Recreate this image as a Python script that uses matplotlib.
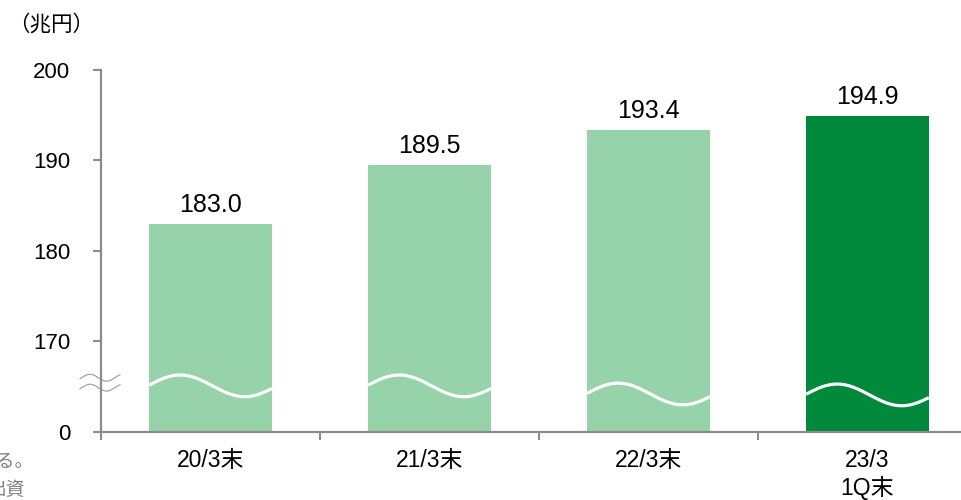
import numpy as np
import matplotlib
matplotlib.use("Agg")
import matplotlib.pyplot as plt

plt.rcParams['font.family'] = ['Liberation Sans', 'Noto Sans CJK JP', 'DejaVu Sans']

# ---- data ----
categories = ["20/3末", "21/3末", "22/3末", "23/3\n1Q末"]
values = [183.0, 189.5, 193.4, 194.9]
value_labels = ["183.0", "189.5", "193.4", "194.9"]
ytick_values = [0, 170, 180, 190, 200]
unit_label = "（兆円）"

# broken axis: real 0 is drawn where 160 would be
BREAK_BASE = 160.0
def to_axis(v):
    return v if v >= 170 else BREAK_BASE

light = "#96D3AA"
dark = "#00893A"
colors = [light, light, light, dark]
spine_gray = "#8C8C8C"

fig = plt.figure(figsize=(9.62, 5.0), dpi=100)
ax = fig.add_axes([101/962, 68/500, 861/962, 362/500])

x = np.arange(len(categories))
bar_w = 0.56
heights = [to_axis(v) - BREAK_BASE for v in values]
bars = ax.bar(x, heights, bottom=BREAK_BASE, width=bar_w, color=colors, zorder=2)

for xi, v, lab in zip(x, values, value_labels):
    ax.annotate(lab, (xi, to_axis(v)), xytext=(0, 5), textcoords="offset points",
                ha="center", va="bottom", fontsize=18, color="black")

# white wavy break lines through the bars
wave_centers = [165.1, 165.1, 164.2, 164.1]
t = np.linspace(0, 1, 200)
for xi, c in zip(x, wave_centers):
    xs = xi - bar_w/2 + t*bar_w
    ys = c + 1.2*np.sin(2*np.pi*(0.95*t + 0.01))
    ax.plot(xs, ys, color="white", lw=2.3, zorder=3, solid_capstyle="butt")

# axis break marks on the y axis (gray double waves)
tx = np.linspace(0, 1, 100)
bx = -0.596 + tx*(0.183)
for c in [166.0, 164.9]:
    by = c + 0.38*np.cos(2*np.pi*(tx*40/33 - 10/33))
    ax.plot(bx, by, color="#9A9A9A", lw=0.8, clip_on=False, zorder=1)

ax.set_xlim(-0.5, -0.5 + 861/219)
ax.set_ylim(160, 200)

ax.set_yticks([to_axis(v) for v in ytick_values])
ax.set_yticklabels([str(v) for v in ytick_values])

ax.set_xticks([-0.5, 0.5, 1.5, 2.5])
ax.set_xticklabels([])
ax.set_xticks(x, minor=True)
ax.set_xticklabels(categories, minor=True, fontsize=16.5, linespacing=1.2)
ax.tick_params(axis="x", which="minor", length=0, pad=12)
ax.tick_params(axis="x", which="major", length=6, width=1.5, color=spine_gray, direction="out")
ax.tick_params(axis="y", length=6, width=1.5, color=spine_gray, labelsize=16, pad=16)

for s in ["top", "right"]:
    ax.spines[s].set_visible(False)
for s in ["left", "bottom"]:
    ax.spines[s].set_color(spine_gray)
    ax.spines[s].set_linewidth(1.6)
    ax.spines[s].set_zorder(4)

fig.text(8/962, 1 - 25/500, unit_label, fontsize=15.5, ha="left", va="center")

# clipped residual text from the source slide
fig.text(34/962, 1 - 462/500, "ある。", fontsize=13.5, ha="right", va="center", color="#808080")
fig.text(-12/962, 1 - 490/500, "出資", fontsize=13.5, ha="left", va="center", color="#808080")

fig.savefig("out.png", dpi=100)
